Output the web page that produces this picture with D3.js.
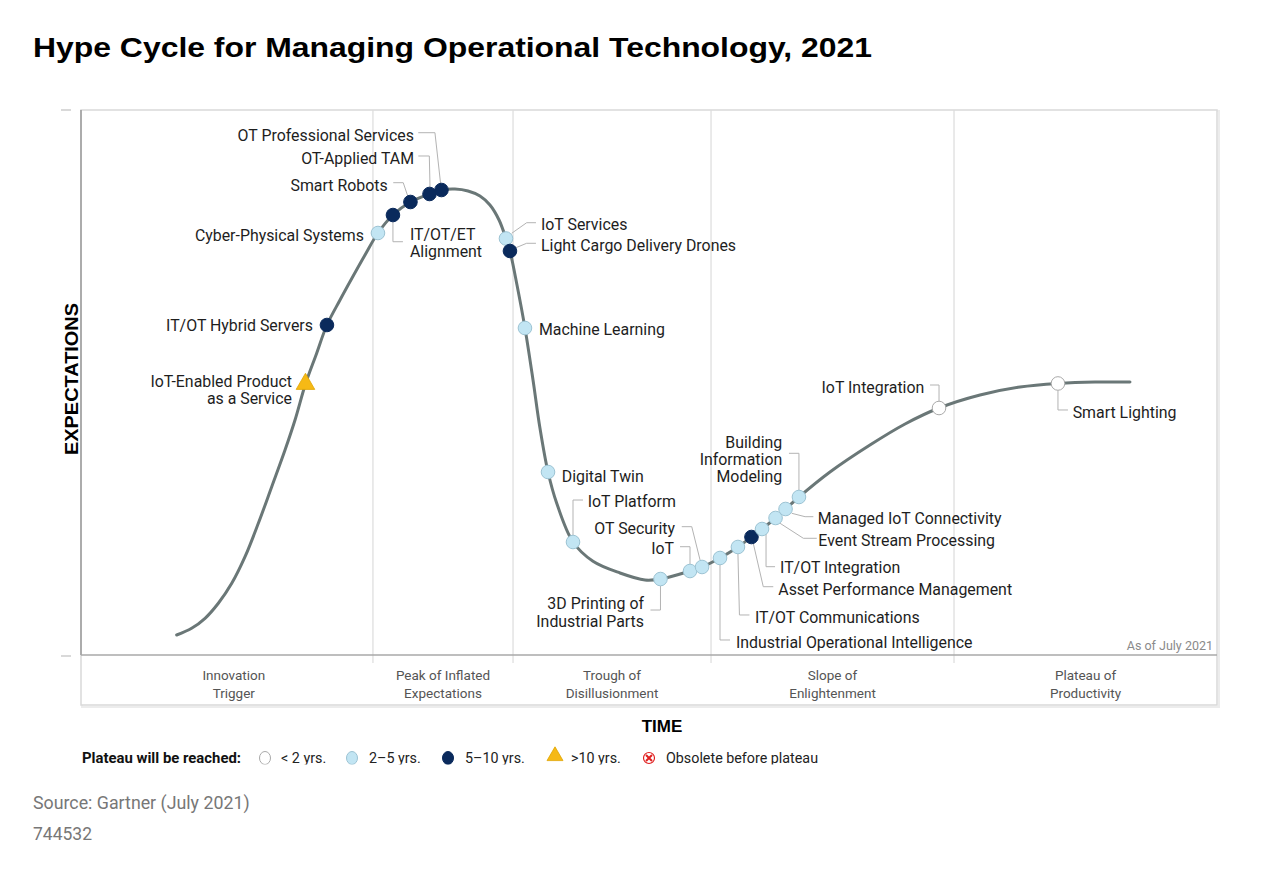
<!DOCTYPE html>
<html>
<head>
<meta charset="utf-8">
<script src="https://cdn.jsdelivr.net/npm/d3@7"></script>
<style>
  html, body { margin: 0; padding: 0; background: #fff; }
  svg { display: block; }
</style>
</head>
<body>
<svg id="chart" width="1280" height="871"></svg>
<script>
// ---------------- DATA ----------------
const title = "Hype Cycle for Managing Operational Technology, 2021";

// Hype curve trace (time %, expectations %)
const curveTime = [8.42, 9.74, 10.92, 12.09, 13.27, 14.44, 15.61, 16.79, 17.96, 18.84, 19.76, 20.69, 21.65, 22.8, 23.86, 25.0, 26.14, 27.46, 29.0, 30.68, 31.73, 32.92, 34.07, 35.12, 36.0, 36.8, 37.41, 37.76, 38.38, 39.08, 39.79, 40.4, 41.11, 41.87, 43.31, 45.07, 47.45, 49.65, 51.01, 53.61, 54.67, 56.25, 57.83, 59.02, 59.95, 61.14, 62.02, 63.2, 65.93, 69.45, 72.54, 75.53, 79.14, 82.66, 86.0, 89.26, 92.34];
const curveExp  = [3.67, 4.9, 6.73, 9.49, 13.15, 18.04, 24.16, 30.88, 37.61, 43.12, 49.72, 55.05, 60.55, 65.14, 69.17, 73.39, 77.43, 80.73, 83.12, 84.59, 85.32, 85.5, 85.14, 84.22, 82.57, 79.82, 76.42, 74.13, 67.89, 60.0, 50.46, 41.65, 33.58, 27.89, 20.73, 17.2, 15.05, 13.76, 13.94, 15.41, 16.15, 17.8, 19.82, 21.65, 23.12, 25.14, 26.79, 28.99, 33.58, 38.53, 42.39, 45.32, 47.71, 49.17, 49.82, 50.09, 50.09];

// Technologies on the curve
const techNames = ["IoT-Enabled Product as a Service", "IT/OT Hybrid Servers", "Cyber-Physical Systems", "IT/OT/ET Alignment", "Smart Robots", "OT-Applied TAM", "OT Professional Services", "IoT Services", "Light Cargo Delivery Drones", "Machine Learning", "Digital Twin", "IoT Platform", "3D Printing of Industrial Parts", "IoT", "OT Security", "Industrial Operational Intelligence", "IT/OT Communications", "Asset Performance Management", "IT/OT Integration", "Event Stream Processing", "Managed IoT Connectivity", "Building Information Modeling", "IoT Integration", "Smart Lighting"];
const techTime = [19.76, 21.65, 26.14, 27.46, 29.0, 30.68, 31.73, 37.41, 37.76, 39.08, 41.11, 43.31, 51.01, 53.61, 54.67, 56.25, 57.83, 59.02, 59.95, 61.14, 62.02, 63.2, 75.53, 86.0];
const techExp  = [49.72, 60.55, 77.43, 80.73, 83.12, 84.59, 85.32, 76.42, 74.13, 60.0, 33.58, 20.73, 13.94, 15.41, 16.15, 17.8, 19.82, 21.65, 23.12, 25.14, 26.79, 28.99, 45.32, 49.82];
// plateau class: 0 "<2 yrs", 1 "2-5 yrs", 2 "5-10 yrs", 3 ">10 yrs", 4 obsolete
const techPlateau = [3, 2, 1, 2, 2, 2, 2, 1, 2, 1, 1, 1, 1, 1, 1, 1, 1, 2, 1, 1, 1, 1, 0, 0];

// Phases
const phaseNames = [["Innovation", "Trigger"], ["Peak of Inflated", "Expectations"], ["Trough of", "Disillusionment"], ["Slope of", "Enlightenment"], ["Plateau of", "Productivity"]];
const phaseBounds = [1.2, 25.7, 38.03, 55.46, 76.85, 100];

const legendTitle = "Plateau will be reached:";
const legendLabels = ["< 2 yrs.", "2–5 yrs.", "5–10 yrs.", ">10 yrs.", "Obsolete before plateau"];

const xAxisTitle = "TIME";
const yAxisTitle = "EXPECTATIONS";
const asOfText = "As of July 2021";
const sourceText = "Source: Gartner (July 2021)";
const idText = "744532";

// ---------------- LAYOUT (label placement, px offsets from dot) ----------------
const labelLayout = {
  "IoT-Enabled Product as a Service": {lines: ["IoT-Enabled Product", "as a Service"], anchor: "end", dx: -13.5, dy: -3, leader: null},
  "IT/OT Hybrid Servers": {anchor: "end", dx: -14, dy: 0, leader: null},
  "Cyber-Physical Systems": {anchor: "end", dx: -14, dy: 2, leader: null},
  "IT/OT/ET Alignment": {lines: ["IT/OT/ET", "Alignment"], anchor: "start", dx: 17, dy: 19, leader: [[0, 7], [0, 26.7], [10, 26.7]]},
  "Smart Robots": {anchor: "end", dx: -22.8, dy: -17, leader: [[-17.2, -19.3], [-7.2, -19.3], [-2.5, -5.3]]},
  "OT-Applied TAM": {anchor: "end", dx: -15.5, dy: -35.7, leader: [[-11.2, -38], [-0.2, -38], [0.5, -6.7]]},
  "OT Professional Services": {anchor: "end", dx: -27.5, dy: -55, leader: [[-23.2, -57.3], [-6.5, -57.3], [-0.8, -6]]},
  "IoT Services": {anchor: "start", dx: 35, dy: -14.5, leader: [[5.7, -5.2], [20.7, -15.8], [30, -15.8]]},
  "Light Cargo Delivery Drones": {anchor: "start", dx: 31, dy: -5.7, leader: [[6, -3.3], [16.7, -7.7], [26, -7.7]]},
  "Machine Learning": {anchor: "start", dx: 14, dy: 1.3, leader: null},
  "Digital Twin": {anchor: "start", dx: 13.7, dy: 3.7, leader: null},
  "IoT Platform": {anchor: "start", dx: 14.7, dy: -41, leader: [[0, -7], [0, -42], [10, -42]]},
  "3D Printing of Industrial Parts": {lines: ["3D Printing of", "Industrial Parts"], anchor: "end", dx: -16.5, dy: 24.3, leader: [[0, 7], [0, 31], [-10, 31]]},
  "IoT": {anchor: "end", dx: -16, dy: -22.7, leader: [[0, -7], [0, -24.3], [-10, -24.3]]},
  "OT Security": {anchor: "end", dx: -27, dy: -38.7, leader: [[-2, -7], [-10.3, -40.3], [-20.3, -40.3]]},
  "Industrial Operational Intelligence": {anchor: "start", dx: 16, dy: 83.7, leader: [[0, 7], [0, 82], [10, 82]]},
  "IT/OT Communications": {anchor: "start", dx: 17, dy: 69.7, leader: [[0, 7], [1.5, 68], [11.5, 68]]},
  "Asset Performance Management": {anchor: "start", dx: 26.8, dy: 52, leader: [[1.8, 6.3], [11.8, 49.7], [21.8, 49.7]]},
  "IT/OT Integration": {anchor: "start", dx: 18, dy: 38.3, leader: [[4, 5], [4, 37.7], [13, 37.7]]},
  "Event Stream Processing": {anchor: "start", dx: 42.8, dy: 22, leader: [[4.5, 5.3], [27.8, 20.3], [41.2, 20.3]]},
  "Managed IoT Connectivity": {anchor: "start", dx: 32.2, dy: 9.3, leader: [[6.2, 4.3], [19.5, 7.7], [27.8, 7.7]]},
  "Building Information Modeling": {lines: ["Building", "Information", "Modeling"], anchor: "end", dx: -16.7, dy: -55.3, leader: [[0, -7], [0, -43.7], [-10, -43.7]]},
  "IoT Integration": {anchor: "end", dx: -14.7, dy: -20.7, leader: [[0, -7], [0, -23], [-9, -23]]},
  "Smart Lighting": {anchor: "start", dx: 14.7, dy: 28.8, leader: [[0, 7], [0, 26.5], [10, 26.5]]}
};

// ---------------- DRAW ----------------
const svg = d3.select("#chart");
const plot = {left: 81, right: 1217, top: 110, bottom: 655, bandBottom: 705};

const x = d3.scaleLinear().domain([0, 100]).range([plot.left, plot.right]);
const y = d3.scaleLinear().domain([0, 100]).range([plot.bottom, plot.top]);

const labelFont = "Roboto, 'Noto Sans', sans-serif";
const styles = [
  {fill: "#ffffff", stroke: "#a9a9a9"},
  {fill: "#c2e5f3", stroke: "#9cc3d3"},
  {fill: "#0a2a5c", stroke: "#0a2a5c"},
  {fill: "#f6b915", stroke: "#e0a500"},
  {fill: "#ffffff", stroke: "#e02020"}
];

// Title
svg.append("text")
  .attr("x", 33).attr("y", 57)
  .attr("font-family", "'Liberation Sans', Arial, sans-serif")
  .attr("font-weight", "bold")
  .attr("font-size", 28)
  .attr("fill", "#000")
  .attr("textLength", 839)
  .attr("lengthAdjust", "spacingAndGlyphs")
  .text(title);

// shadow-ish frame
svg.append("rect")
  .attr("x", plot.left + 1).attr("y", plot.top + 1)
  .attr("width", plot.right - plot.left + 1).attr("height", plot.bandBottom - plot.top + 1)
  .attr("fill", "none").attr("stroke", "#ececec").attr("stroke-width", 2);
svg.append("rect")
  .attr("x", plot.left).attr("y", plot.top)
  .attr("width", plot.right - plot.left).attr("height", plot.bandBottom - plot.top)
  .attr("fill", "#fff").attr("stroke", "#d9d9d9").attr("stroke-width", 1.5);

// small outside ticks
svg.append("line").attr("x1", 61).attr("x2", 71).attr("y1", plot.top).attr("y2", plot.top).attr("stroke", "#ccc").attr("stroke-width", 1.5);
svg.append("line").attr("x1", 61).attr("x2", 71).attr("y1", plot.bottom + 1).attr("y2", plot.bottom + 1).attr("stroke", "#ccc").attr("stroke-width", 1.5);

// phase dividers
const dividers = phaseBounds.slice(1, -1);
svg.append("g").selectAll("line").data(dividers).join("line")
  .attr("x1", d => x(d)).attr("x2", d => x(d))
  .attr("y1", plot.top).attr("y2", plot.bottom + 8)
  .attr("stroke", "#dcdcdc").attr("stroke-width", 1.2);

// axis lines
svg.append("line").attr("x1", plot.left).attr("x2", plot.left).attr("y1", plot.top).attr("y2", plot.bottom)
  .attr("stroke", "#9a9a9a").attr("stroke-width", 1.5);
svg.append("line").attr("x1", plot.left).attr("x2", plot.right).attr("y1", plot.bottom).attr("y2", plot.bottom)
  .attr("stroke", "#a8a8a8").attr("stroke-width", 1.5);

// phase labels
const phaseG = svg.append("g");
phaseNames.forEach((lines, i) => {
  const cx = x((phaseBounds[i] + phaseBounds[i + 1]) / 2);
  const t = phaseG.append("text")
    .attr("x", cx).attr("y", 680)
    .attr("text-anchor", "middle")
    .attr("font-family", labelFont)
    .attr("font-size", 13.5)
    .attr("fill", "#555");
  lines.forEach((l, j) => t.append("tspan").attr("x", cx).attr("dy", j === 0 ? 0 : 17.5).text(l));
});

// as of
svg.append("text").attr("x", 1213).attr("y", 650)
  .attr("text-anchor", "end").attr("font-family", labelFont).attr("font-size", 12.5).attr("fill", "#8a8a8a")
  .text(asOfText);

// axis titles
svg.append("text").attr("x", 662).attr("y", 732)
  .attr("text-anchor", "middle")
  .attr("font-family", "'Liberation Sans', Arial, sans-serif").attr("font-weight", "bold").attr("font-size", 17)
  .text(xAxisTitle);
svg.append("text")
  .attr("transform", "translate(78,379) rotate(-90)")
  .attr("text-anchor", "middle")
  .attr("font-family", "'Liberation Sans', Arial, sans-serif").attr("font-weight", "bold").attr("font-size", 19)
  .attr("textLength", 152).attr("lengthAdjust", "spacingAndGlyphs")
  .text(yAxisTitle);

// curve
const curvePts = curveTime.map((t, i) => [t, curveExp[i]]);
const line = d3.line().x(d => x(d[0])).y(d => y(d[1])).curve(d3.curveCatmullRom.alpha(0.5));
svg.append("path").datum(curvePts)
  .attr("d", line)
  .attr("fill", "none")
  .attr("stroke", "#6a7777")
  .attr("stroke-width", 3)
  .attr("stroke-linecap", "round");

// technologies
const techs = techNames.map((n, i) => ({name: n, t: techTime[i], e: techExp[i], p: techPlateau[i]}));

const leaderG = svg.append("g");
const labelG = svg.append("g");
const dotG = svg.append("g");

techs.forEach(d => {
  const px = x(d.t), py = y(d.e);
  const L = labelLayout[d.name];
  if (L.leader) {
    leaderG.append("path")
      .attr("d", d3.line()(L.leader.map(o => [px + o[0], py + o[1]])))
      .attr("fill", "none").attr("stroke", "#b3b3b3").attr("stroke-width", 1);
  }
  const lines = L.lines || [d.name];
  const t = labelG.append("text")
    .attr("x", px + L.dx).attr("y", py + L.dy)
    .attr("text-anchor", L.anchor)
    .attr("dominant-baseline", "central")
    .attr("font-family", labelFont)
    .attr("font-size", 15.9)
    .attr("fill", "#1e1e1e");
  lines.forEach((l, j) => t.append("tspan").attr("x", px + L.dx).attr("dy", j === 0 ? 0 : 17.3).text(l));

  const s = styles[d.p];
  if (d.p === 3) {
    const tri = d3.symbol().type(d3.symbolTriangle).size(150);
    dotG.append("path").attr("d", tri()).attr("transform", `translate(${px},${py})`)
      .attr("fill", s.fill).attr("stroke", s.stroke).attr("stroke-width", 0.8);
  } else {
    dotG.append("circle").attr("cx", px).attr("cy", py).attr("r", 6.8)
      .attr("fill", s.fill).attr("stroke", s.stroke).attr("stroke-width", 1);
  }
});

// legend (clipped at bottom like the reference)
svg.append("clipPath").attr("id", "legclip").append("rect").attr("x", 0).attr("y", 740).attr("width", 1280).attr("height", 24.5);
const leg = svg.append("g").attr("clip-path", "url(#legclip)");
leg.append("text").attr("x", 82).attr("y", 763)
  .attr("font-family", labelFont).attr("font-weight", "bold").attr("font-size", 14).attr("fill", "#111")
  .attr("textLength", 159).attr("lengthAdjust", "spacingAndGlyphs")
  .text(legendTitle);
const legSym = [265, 352, 448, 555, 649];
const legTxt = [281, 369, 465, 571, 666];
legendLabels.forEach((lab, i) => {
  const s = styles[i];
  const cx = legSym[i], cy = 758;
  if (i === 3) {
    leg.append("path").attr("d", d3.symbol().type(d3.symbolTriangle).size(110)())
      .attr("transform", `translate(${cx},${cy - 2})`).attr("fill", s.fill).attr("stroke", s.stroke).attr("stroke-width", 0.8);
  } else if (i === 4) {
    leg.append("circle").attr("cx", cx).attr("cy", cy).attr("r", 5.5).attr("fill", "#fff").attr("stroke", "#e02020").attr("stroke-width", 1.2);
    leg.append("path").attr("d", `M${cx - 3},${cy - 3}L${cx + 3},${cy + 3}M${cx + 3},${cy - 3}L${cx - 3},${cy + 3}`)
      .attr("stroke", "#e02020").attr("stroke-width", 2);
  } else {
    leg.append("ellipse").attr("cx", cx).attr("cy", cy).attr("rx", 5.5).attr("ry", 6.5)
      .attr("fill", s.fill).attr("stroke", s.stroke).attr("stroke-width", 1);
  }
  leg.append("text").attr("x", legTxt[i]).attr("y", 763)
    .attr("font-family", labelFont).attr("font-size", 14.3).attr("fill", "#222")
    .text(lab);
});

// source
svg.append("text").attr("x", 33).attr("y", 809)
  .attr("font-family", labelFont).attr("font-size", 17.8).attr("fill", "#777").text(sourceText);
svg.append("text").attr("x", 33).attr("y", 840)
  .attr("font-family", labelFont).attr("font-size", 17.5).attr("fill", "#777").text(idText);
</script>
</body>
</html>
